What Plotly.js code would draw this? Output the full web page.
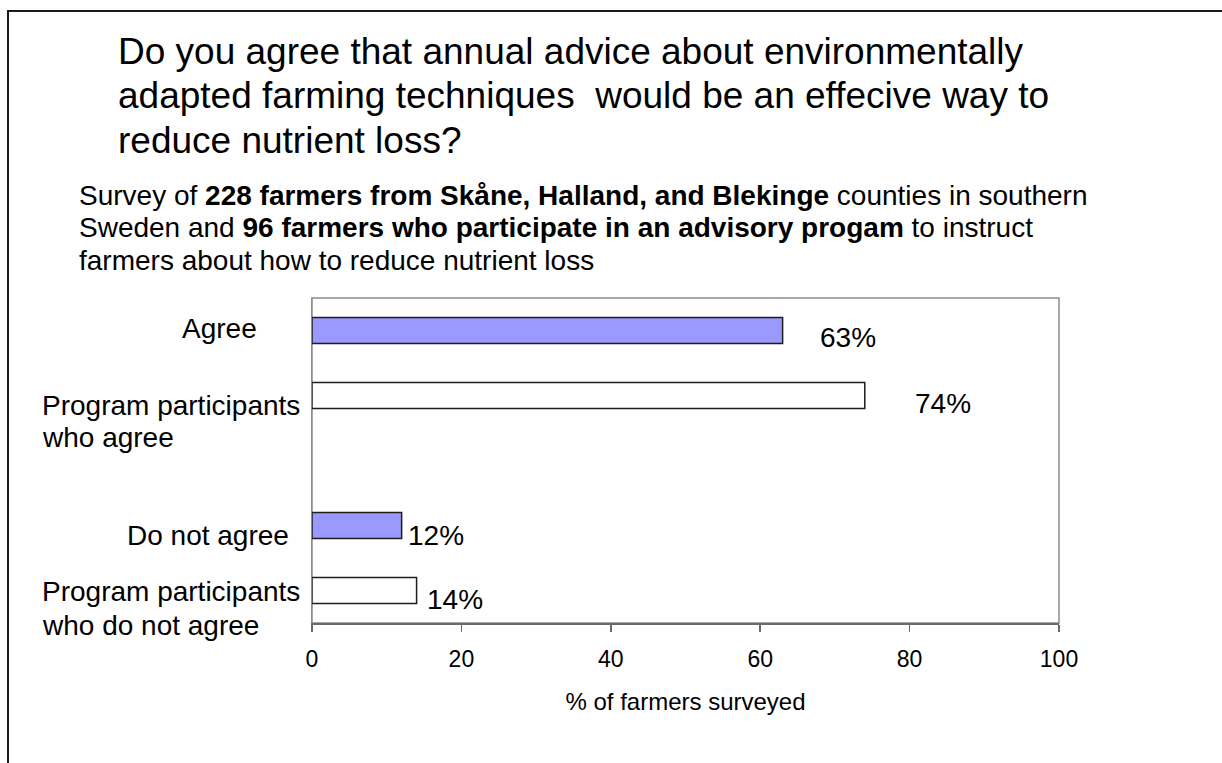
<!DOCTYPE html>
<html>
<head>
<meta charset="utf-8">
<script src="https://cdn.plot.ly/plotly-3.0.1.min.js"></script>
<style>
  html, body { margin: 0; padding: 0; background: #ffffff; }
  #chart { width: 1222px; height: 763px; }
</style>
</head>
<body>
<div id="chart"></div>
<script>
// ---- Survey data -------------------------------------------------------
// Category order from top to bottom; the blank entry separates the two groups.
const categories = [
  'Agree',
  'Program participants who agree',
  ' ',
  'Do not agree',
  'Program participants who do not agree'
];
// Wrapped text of each category label
const categoryLabelLines = [
  ['Agree'],
  ['Program participants', 'who agree'],
  [],
  ['Do not agree'],
  ['Program participants', 'who do not agree']
];

const allFarmerCats = ['Agree', 'Do not agree'];
const allFarmerPct = [63, 12];

const participantCats = ['Program participants who agree', 'Program participants who do not agree'];
const participantPct = [74, 14];

const xTickVals = [0, 20, 40, 60, 80, 100];

const titleLines = [
  'Do you agree that annual advice about environmentally',
  'adapted farming techniques \u00a0would be an effecive way to',
  'reduce nutrient loss?'
];
const subtitleLines = [
  'Survey of <b>228 farmers from Skåne, Halland, and Blekinge</b> counties in southern',
  'Sweden and <b>96 farmers who participate in an advisory progam</b> to instruct',
  'farmers about how to reduce nutrient loss'
];
const xAxisTitle = '% of farmers surveyed';

// ---- Layout geometry (pixels) -----------------------------------------
const W = 1222, H = 763;
const M = { l: 312, r: 163, t: 298, b: 140 };
const plotW = W - M.l - M.r, plotH = H - M.t - M.b;
const px2x = px => (px - M.l) / plotW;
const py2y = py => (H - M.b - py) / plotH;

const FONT = 'Arial, "Liberation Sans", sans-serif';
const INK = '#000000';

const annotations = [];

// Question title, one annotation per line
const titleCenters = [52, 96, 140.5];
titleLines.forEach((t, i) => annotations.push({
  text: t, xref: 'paper', yref: 'paper',
  x: px2x(116), y: py2y(titleCenters[i]),
  xanchor: 'left', yanchor: 'middle', showarrow: false,
  font: { family: FONT, size: 37, color: INK }
}));

// Survey description
const subCenters = [195, 227.5, 260];
subtitleLines.forEach((t, i) => annotations.push({
  text: t, xref: 'paper', yref: 'paper',
  x: px2x(77), y: py2y(subCenters[i]),
  xanchor: 'left', yanchor: 'middle', showarrow: false,
  font: { family: FONT, size: 28, color: INK }
}));

// Category labels left of the axis
const labelLeft = [180, 40, 0, 125, 40];
const labelOffsets = [[2.5], [-9.5, -41.5], [], [-9.5], [-0.5, -34.5]];
categoryLabelLines.forEach((lines, ci) => {
  lines.forEach((line, li) => annotations.push({
    text: line, xref: 'paper', yref: 'y',
    x: px2x(labelLeft[ci]), y: categories[ci], yshift: labelOffsets[ci][li],
    xanchor: 'left', yanchor: 'middle', showarrow: false,
    font: { family: FONT, size: 28, color: INK }
  }));
});

// Value labels beside the bars
function valueLabels(cats, vals, shifts) {
  cats.forEach((c, i) => annotations.push({
    text: vals[i] + '%', xref: 'x', yref: 'y',
    x: vals[i], y: c, xshift: shifts[i][0], yshift: shifts[i][1],
    xanchor: 'left', yanchor: 'middle', showarrow: false,
    font: { family: FONT, size: 28, color: INK }
  }));
}
valueLabels(allFarmerCats, allFarmerPct, [[35, -7], [4, -10]]);
valueLabels(participantCats, participantPct, [[48, -8], [8, -9]]);

const shapes = [
  // slide frame
  { type: 'rect', xref: 'paper', yref: 'paper',
    x0: px2x(8), x1: px2x(1300), y0: py2y(900), y1: py2y(11),
    line: { color: '#1a1a1a', width: 2 }, fillcolor: 'rgba(0,0,0,0)', layer: 'above' },
  // plot area border
  { type: 'rect', xref: 'paper', yref: 'paper', x0: 0, x1: 1, y0: 0, y1: 1,
    line: { color: '#8c8c8c', width: 1.5 }, fillcolor: 'rgba(0,0,0,0)', layer: 'below' }
];

const barLine = { color: '#1e1e1e', width: 1.5 };
const traces = [
  {
    type: 'bar', orientation: 'h', name: 'All farmers surveyed',
    x: allFarmerPct, y: allFarmerCats, width: 0.4,
    marker: { color: '#9999ff', line: barLine },
    hoverinfo: 'x+y'
  },
  {
    type: 'bar', orientation: 'h', name: 'Program participants',
    x: participantPct, y: participantCats, width: 0.4,
    marker: { color: '#ffffff', line: barLine },
    hoverinfo: 'x+y'
  }
];

const layout = {
  width: W, height: H,
  margin: M,
  paper_bgcolor: '#ffffff', plot_bgcolor: '#ffffff',
  showlegend: false,
  barmode: 'overlay',
  font: { family: FONT, color: INK },
  xaxis: {
    range: [0, 100], tickvals: xTickVals, ticktext: xTickVals.map(String),
    ticks: 'outside', ticklen: 7, tickwidth: 1.5, tickcolor: '#6a6a6a',
    showline: true, linecolor: '#6a6a6a', linewidth: 1.5,
    showgrid: false, zeroline: false, fixedrange: true,
    tickfont: { family: FONT, size: 23, color: INK },
    ticklabelstandoff: 8,
    title: { text: xAxisTitle, font: { family: FONT, size: 24, color: INK }, standoff: 22 }
  },
  yaxis: {
    type: 'category', categoryorder: 'array', categoryarray: categories,
    range: [categories.length - 0.5, -0.5],
    showticklabels: false, ticks: '',
    showline: true, linecolor: '#8c8c8c', linewidth: 1.5,
    showgrid: false, zeroline: false, fixedrange: true
  },
  annotations: annotations,
  shapes: shapes
};

Plotly.newPlot('chart', traces, layout, { displayModeBar: false, staticPlot: true });
</script>
</body>
</html>
